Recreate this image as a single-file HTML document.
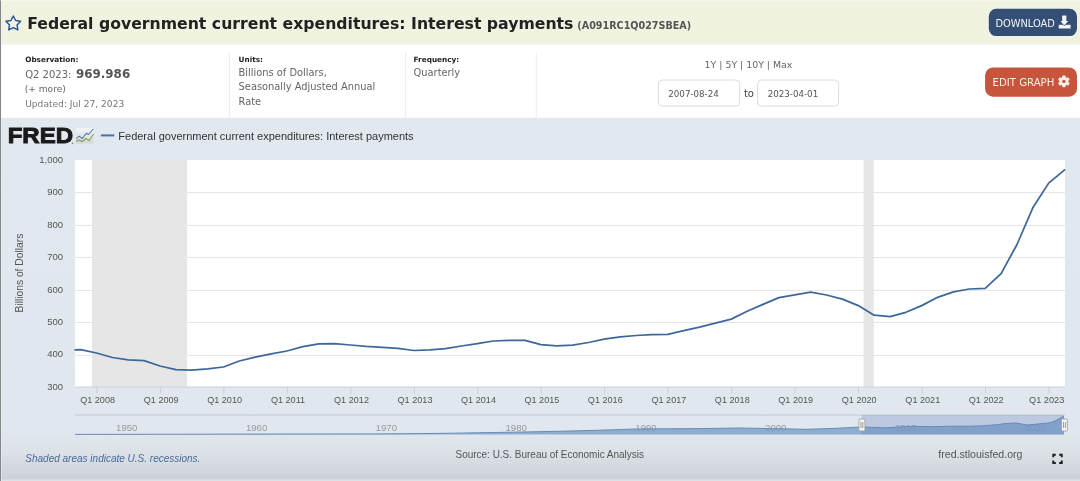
<!DOCTYPE html>
<html><head><meta charset="utf-8"><title>FRED - Federal government current expenditures: Interest payments</title>
<style>html,body{margin:0;padding:0;width:1080px;height:481px;overflow:hidden;background:#e1e8ef}svg{display:block;will-change:transform}</style>
</head><body>
<svg width="1080" height="481" viewBox="0 0 1080 481">
<defs><linearGradient id="cbg" gradientUnits="userSpaceOnUse" x1="0" y1="118" x2="0" y2="479"><stop offset="0" stop-color="#e1e8ef"/><stop offset="0.87" stop-color="#e1e7ee"/><stop offset="0.93" stop-color="#dbe1e7"/><stop offset="1" stop-color="#cbd1d7"/></linearGradient><linearGradient id="ico" x1="0" y1="0" x2="0" y2="1"><stop offset="0" stop-color="#f4f6f7"/><stop offset="1" stop-color="#cfd6dc"/></linearGradient></defs>
<rect x="0" y="0" width="1080" height="481" fill="url(#cbg)"/>
<rect x="0" y="0" width="1080" height="44.4" fill="#f0f3df"/>
<rect x="0" y="44.4" width="1080" height="73.5" fill="#ffffff"/>
<rect x="0" y="479.4" width="1080" height="1.6" fill="#dde2e6"/>
<rect x="0" y="0" width="1.1" height="481" fill="#84878b"/><rect x="1.1" y="0" width="0.9" height="481" fill="#ffffff" fill-opacity="0.45"/>
<rect x="0" y="0" width="1080" height="1" fill="#ffffff" fill-opacity="0.35"/>
<polygon points="13.30,15.95 15.65,20.46 20.67,21.31 17.10,24.94 17.86,29.97 13.30,27.70 8.74,29.97 9.50,24.94 5.93,21.31 10.95,20.46" fill="none" stroke="#2a5194" stroke-width="1.4" stroke-linejoin="round"/>
<text x="27.2" y="29" font-family="DejaVu Sans" font-weight="bold" font-size="15.7" fill="#222">Federal government current expenditures: Interest payments</text>
<text x="577.3" y="29" font-family="DejaVu Sans" font-weight="bold" font-size="9.62" fill="#555">(A091RC1Q027SBEA)</text>
<rect x="988.8" y="8.7" width="88.2" height="27.4" rx="7.5" fill="#344e76"/>
<text x="995.4" y="27" font-family="DejaVu Sans" font-size="9.85" fill="#f2f4f8">DOWNLOAD</text>
<g fill="#f2f4f8"><path d="M1058.7,24.8 h11.9 v3.7 h-11.9 z"/><rect x="1062.4" y="15.7" width="3.8" height="5.8"/><polygon points="1060.6,21 1068.0,21 1064.3,25.2" stroke="#344e76" stroke-width="1.3" paint-order="stroke" stroke-linejoin="round"/><rect x="1062.4" y="15.7" width="3.8" height="5.8"/><polygon points="1060.6,21 1068.0,21 1064.3,25.2"/></g>
<rect x="985.1" y="67.5" width="91.9" height="29.2" rx="8" fill="#c6563b"/>
<text x="992.6" y="86.4" font-family="DejaVu Sans" font-size="10.15" fill="#fbeeea">EDIT GRAPH</text>
<g fill="#fbeeea"><rect x="1062.20" y="75.50" width="3.4" height="3.4" rx="0.8" transform="rotate(0 1063.9 81.4)"/><rect x="1062.20" y="75.50" width="3.4" height="3.4" rx="0.8" transform="rotate(60 1063.9 81.4)"/><rect x="1062.20" y="75.50" width="3.4" height="3.4" rx="0.8" transform="rotate(120 1063.9 81.4)"/><rect x="1062.20" y="75.50" width="3.4" height="3.4" rx="0.8" transform="rotate(180 1063.9 81.4)"/><rect x="1062.20" y="75.50" width="3.4" height="3.4" rx="0.8" transform="rotate(240 1063.9 81.4)"/><rect x="1062.20" y="75.50" width="3.4" height="3.4" rx="0.8" transform="rotate(300 1063.9 81.4)"/><circle cx="1063.9" cy="81.4" r="4.3"/></g><circle cx="1063.9" cy="81.4" r="1.7" fill="#c6563b"/>
<text x="25.2" y="61.9" font-family="DejaVu Sans" font-weight="bold" font-size="7.3" fill="#222">Observation:</text>
<text x="25.2" y="77.7" font-family="DejaVu Sans" font-size="10" fill="#666">Q2 2023:</text><text x="76" y="77.7" font-family="DejaVu Sans" font-weight="bold" font-size="11.9" fill="#555">969.986</text>
<text x="24.7" y="92.3" font-family="DejaVu Sans" font-size="9.1" fill="#666">(+ more)</text>
<text x="25.2" y="106.8" font-family="DejaVu Sans" font-size="9.1" fill="#777">Updated: Jul 27, 2023</text>
<rect x="228.9" y="52.6" width="1" height="65.3" fill="#e9ecef"/>
<rect x="405.1" y="52.6" width="1" height="65.3" fill="#e9ecef"/>
<rect x="535.8" y="52.6" width="1" height="65.3" fill="#e9ecef"/>
<text x="238.6" y="61.9" font-family="DejaVu Sans" font-weight="bold" font-size="7.3" fill="#222">Units:</text>
<text x="238.6" y="75.9" font-family="DejaVu Sans" font-size="9.86" fill="#666">Billions of Dollars,</text>
<text x="238.6" y="90.3" font-family="DejaVu Sans" font-size="9.86" fill="#666">Seasonally Adjusted Annual</text>
<text x="238.6" y="104.8" font-family="DejaVu Sans" font-size="9.86" fill="#666">Rate</text>
<text x="413.6" y="61.9" font-family="DejaVu Sans" font-weight="bold" font-size="7.3" fill="#222">Frequency:</text>
<text x="413.6" y="75.9" font-family="DejaVu Sans" font-size="9.86" fill="#666">Quarterly</text>
<text x="748.5" y="67.9" font-family="DejaVu Sans" font-size="9.4" fill="#666" text-anchor="middle">1Y | 5Y | 10Y | Max</text>
<rect x="658.4" y="80" width="81.3" height="26.1" rx="4" fill="#fff" stroke="#dcdcdc" stroke-width="1"/>
<rect x="757.6" y="80" width="81" height="26.1" rx="4" fill="#fff" stroke="#dcdcdc" stroke-width="1"/>
<text x="668.3" y="96.9" font-family="DejaVu Sans" font-size="8.7" fill="#555">2007-08-24</text>
<text x="767.7" y="96.9" font-family="DejaVu Sans" font-size="8.7" fill="#555">2023-04-01</text>
<text x="743.9" y="96.8" font-family="DejaVu Sans" font-size="10" fill="#444">to</text>
<text x="7.65" y="143.4" font-family="Liberation Sans" font-weight="bold" font-size="21.4" fill="#1a1a1a" stroke="#1a1a1a" stroke-width="0.9" textLength="65.4" lengthAdjust="spacingAndGlyphs">FRED</text>
<circle cx="72.6" cy="143.3" r="0.85" fill="#8a8a8a"/>
<rect x="76" y="128" width="17.5" height="15.5" rx="1.5" fill="url(#ico)"/>
<polyline points="76.2,138.7 79.2,136.2 82.2,138.5 86.5,133.2 88.5,134.5 93.2,129" fill="none" stroke="#56789f" stroke-width="1.05" stroke-linejoin="round"/>
<polyline points="76.2,141.5 79,140 82.2,141.5 86,138.5 89.2,140.5 93.5,134" fill="none" stroke="#86a046" stroke-width="1.05" stroke-linejoin="round"/>
<rect x="100.9" y="134.4" width="13.4" height="2" fill="#4572a7"/>
<text x="118.3" y="139.8" font-family="Liberation Sans" font-size="11" fill="#333">Federal government current expenditures: Interest payments</text>
<text transform="translate(23.2,312.5) rotate(-90)" font-family="Liberation Sans" font-size="10.7" fill="#555" textLength="78.8" lengthAdjust="spacingAndGlyphs">Billions of Dollars</text>
<rect x="75.0" y="160.0" width="990.0" height="227.0" fill="#fff"/>
<rect x="92" y="160.0" width="95" height="227.0" fill="#e6e6e6"/>
<rect x="863.6" y="160.0" width="10.2" height="227.0" fill="#e6e6e6"/>
<rect x="75.0" y="355" width="990.0" height="1" fill="#e6e6e6"/>
<rect x="75.0" y="322" width="990.0" height="1" fill="#e6e6e6"/>
<rect x="75.0" y="290" width="990.0" height="1" fill="#e6e6e6"/>
<rect x="75.0" y="257" width="990.0" height="1" fill="#e6e6e6"/>
<rect x="75.0" y="225" width="990.0" height="1" fill="#e6e6e6"/>
<rect x="75.0" y="192" width="990.0" height="1" fill="#e6e6e6"/>
<text x="63.0" y="389.8" font-family="Liberation Sans" font-size="9.5" fill="#555" text-anchor="end">300</text>
<text x="63.0" y="357.4" font-family="Liberation Sans" font-size="9.5" fill="#555" text-anchor="end">400</text>
<text x="63.0" y="324.9" font-family="Liberation Sans" font-size="9.5" fill="#555" text-anchor="end">500</text>
<text x="63.0" y="292.5" font-family="Liberation Sans" font-size="9.5" fill="#555" text-anchor="end">600</text>
<text x="63.0" y="260.1" font-family="Liberation Sans" font-size="9.5" fill="#555" text-anchor="end">700</text>
<text x="63.0" y="227.7" font-family="Liberation Sans" font-size="9.5" fill="#555" text-anchor="end">800</text>
<text x="63.0" y="195.2" font-family="Liberation Sans" font-size="9.5" fill="#555" text-anchor="end">900</text>
<text x="63.0" y="162.8" font-family="Liberation Sans" font-size="9.5" fill="#555" text-anchor="end">1,000</text>
<rect x="75.0" y="386.5" width="990.0" height="1" fill="#ccd3db"/>
<rect x="96.4" y="387.0" width="1" height="6.5" fill="#c8d0d8"/>
<text x="97.6" y="403.1" font-family="Liberation Sans" font-size="9.1" fill="#555" text-anchor="middle">Q1 2008</text>
<rect x="160.0" y="387.0" width="1" height="6.5" fill="#c8d0d8"/>
<text x="161.2" y="403.1" font-family="Liberation Sans" font-size="9.1" fill="#555" text-anchor="middle">Q1 2009</text>
<rect x="223.4" y="387.0" width="1" height="6.5" fill="#c8d0d8"/>
<text x="224.6" y="403.1" font-family="Liberation Sans" font-size="9.1" fill="#555" text-anchor="middle">Q1 2010</text>
<rect x="286.8" y="387.0" width="1" height="6.5" fill="#c8d0d8"/>
<text x="288.0" y="403.1" font-family="Liberation Sans" font-size="9.1" fill="#555" text-anchor="middle">Q1 2011</text>
<rect x="350.3" y="387.0" width="1" height="6.5" fill="#c8d0d8"/>
<text x="351.5" y="403.1" font-family="Liberation Sans" font-size="9.1" fill="#555" text-anchor="middle">Q1 2012</text>
<rect x="413.8" y="387.0" width="1" height="6.5" fill="#c8d0d8"/>
<text x="415.0" y="403.1" font-family="Liberation Sans" font-size="9.1" fill="#555" text-anchor="middle">Q1 2013</text>
<rect x="477.3" y="387.0" width="1" height="6.5" fill="#c8d0d8"/>
<text x="478.5" y="403.1" font-family="Liberation Sans" font-size="9.1" fill="#555" text-anchor="middle">Q1 2014</text>
<rect x="540.7" y="387.0" width="1" height="6.5" fill="#c8d0d8"/>
<text x="541.9" y="403.1" font-family="Liberation Sans" font-size="9.1" fill="#555" text-anchor="middle">Q1 2015</text>
<rect x="604.1" y="387.0" width="1" height="6.5" fill="#c8d0d8"/>
<text x="605.3" y="403.1" font-family="Liberation Sans" font-size="9.1" fill="#555" text-anchor="middle">Q1 2016</text>
<rect x="667.7" y="387.0" width="1" height="6.5" fill="#c8d0d8"/>
<text x="668.9" y="403.1" font-family="Liberation Sans" font-size="9.1" fill="#555" text-anchor="middle">Q1 2017</text>
<rect x="731.1" y="387.0" width="1" height="6.5" fill="#c8d0d8"/>
<text x="732.3" y="403.1" font-family="Liberation Sans" font-size="9.1" fill="#555" text-anchor="middle">Q1 2018</text>
<rect x="794.5" y="387.0" width="1" height="6.5" fill="#c8d0d8"/>
<text x="795.7" y="403.1" font-family="Liberation Sans" font-size="9.1" fill="#555" text-anchor="middle">Q1 2019</text>
<rect x="858.0" y="387.0" width="1" height="6.5" fill="#c8d0d8"/>
<text x="859.2" y="403.1" font-family="Liberation Sans" font-size="9.1" fill="#555" text-anchor="middle">Q1 2020</text>
<rect x="921.6" y="387.0" width="1" height="6.5" fill="#c8d0d8"/>
<text x="922.8" y="403.1" font-family="Liberation Sans" font-size="9.1" fill="#555" text-anchor="middle">Q1 2021</text>
<rect x="985.0" y="387.0" width="1" height="6.5" fill="#c8d0d8"/>
<text x="986.2" y="403.1" font-family="Liberation Sans" font-size="9.1" fill="#555" text-anchor="middle">Q1 2022</text>
<rect x="1048.4" y="387.0" width="1" height="6.5" fill="#c8d0d8"/>
<text x="1064.3" y="403.1" font-family="Liberation Sans" font-size="9.2" fill="#555" text-anchor="end">Q1 2023</text>
<path d="M75.1,349.8 L80.6,349.7 L96.5,353.0 L112.4,357.5 L128.2,359.8 L144.1,360.6 L160.0,366.0 L175.8,369.7 L191.7,370.1 L207.6,368.9 L223.5,367.0 L239.3,361.0 L255.2,357.2 L271.1,353.8 L286.9,351.0 L302.8,346.6 L318.7,343.8 L334.5,343.6 L350.4,345.0 L366.3,346.4 L382.2,347.3 L398.0,348.4 L413.9,350.5 L429.8,349.9 L445.6,348.7 L461.5,346.0 L477.4,343.6 L493.2,341.0 L509.1,340.4 L525.0,340.3 L540.9,344.6 L556.7,345.8 L572.6,345.1 L588.5,342.5 L604.3,339.1 L620.2,336.9 L636.1,335.5 L651.9,334.7 L667.8,334.4 L683.7,330.7 L699.6,327.1 L715.4,323.1 L731.3,319.1 L747.2,311.2 L763.0,304.4 L778.9,297.6 L794.8,294.9 L810.6,292.1 L826.5,295.0 L842.4,299.1 L858.3,305.6 L874.1,315.2 L890.0,316.7 L905.9,312.3 L921.7,305.6 L937.6,297.3 L953.5,291.8 L969.3,289.0 L985.2,288.3 L1001.1,273.6 L1017.0,244.5 L1032.8,207.8 L1048.7,183.1 L1064.6,169.9" fill="none" stroke="#3e6799" stroke-width="1.75" stroke-linejoin="round" stroke-linecap="round"/>
<rect x="75.0" y="414.25" width="990.0" height="1.5" fill="#cdd3da"/>
<text x="116.1" y="431.3" font-family="Liberation Sans" font-size="9.6" fill="#9a9a9a">1950</text>
<text x="245.9" y="431.3" font-family="Liberation Sans" font-size="9.6" fill="#9a9a9a">1960</text>
<text x="375.7" y="431.3" font-family="Liberation Sans" font-size="9.6" fill="#9a9a9a">1970</text>
<text x="505.5" y="431.3" font-family="Liberation Sans" font-size="9.6" fill="#9a9a9a">1980</text>
<text x="635.3" y="431.3" font-family="Liberation Sans" font-size="9.6" fill="#9a9a9a">1990</text>
<text x="765.1" y="431.3" font-family="Liberation Sans" font-size="9.6" fill="#9a9a9a">2000</text>
<text x="894.9" y="431.3" font-family="Liberation Sans" font-size="9.6" fill="#9a9a9a">2010</text>
<text x="1024.7" y="431.3" font-family="Liberation Sans" font-size="9.6" fill="#9a9a9a">2020</text>
<path d="M75,434.4 L200,434.2 L300,434.0 L380,433.9 L440,433.4 L513,432.2 L558,431.3 L600,430.2 L634,429.0 L700,428.6 L740,428.0 L782,428.8 L807,429.3 L832,428.5 L857,427.2 L861,426.9 L886,427.8 L912,426.3 L931,426.7 L951,426.2 L970,426.2 L983,425.8 L996,424.8 L1005,423.6 L1016,423.0 L1027,425.0 L1038,424.0 L1050,422.8 L1056,420.5 L1064,416.0 L1064,434.6 L75,434.6 Z" fill="#78a0c6" fill-opacity="0.8"/>
<path d="M75,434.4 L200,434.2 L300,434.0 L380,433.9 L440,433.4 L513,432.2 L558,431.3 L600,430.2 L634,429.0 L700,428.6 L740,428.0 L782,428.8 L807,429.3 L832,428.5 L857,427.2 L861,426.9 L886,427.8 L912,426.3 L931,426.7 L951,426.2 L970,426.2 L983,425.8 L996,424.8 L1005,423.6 L1016,423.0 L1027,425.0 L1038,424.0 L1050,422.8 L1056,420.5 L1064,416.0" fill="none" stroke="#6a8cb6" stroke-width="1"/>
<rect x="861.6" y="415.0" width="202.4" height="19.6" fill="rgb(102,133,194)" fill-opacity="0.3"/>
<rect x="858.9" y="419" width="6" height="12" rx="1" fill="#f4f4f4" stroke="#999" stroke-width="0.8"/>
<rect x="860.6" y="422" width="0.8" height="6" fill="#888"/><rect x="862.4" y="422" width="0.8" height="6" fill="#888"/>
<rect x="1061.4" y="419" width="6" height="12" rx="1" fill="#f4f4f4" stroke="#999" stroke-width="0.8"/>
<rect x="1063.1" y="422" width="0.8" height="6" fill="#888"/><rect x="1064.9" y="422" width="0.8" height="6" fill="#888"/>
<text x="25.3" y="462.2" font-family="Liberation Sans" font-style="italic" font-size="10.0" fill="#4b6a9b">Shaded areas indicate U.S. recessions.</text>
<text x="455.5" y="457.6" font-family="Liberation Sans" font-size="10.5" fill="#555" textLength="188.5" lengthAdjust="spacingAndGlyphs">Source: U.S. Bureau of Economic Analysis</text>
<text x="938.3" y="458.1" font-family="Liberation Sans" font-size="10.6" fill="#555">fred.stlouisfed.org</text>
<path d="M1053.25,457.3 v-2.55 h2.55 M1059.2,454.75 h2.55 v2.55 M1061.75,460.5 v2.55 h-2.55 M1055.8,463.05 h-2.55 v-2.55" fill="none" stroke="#1e1e1e" stroke-width="1.9"/>
</svg>
</body></html>
